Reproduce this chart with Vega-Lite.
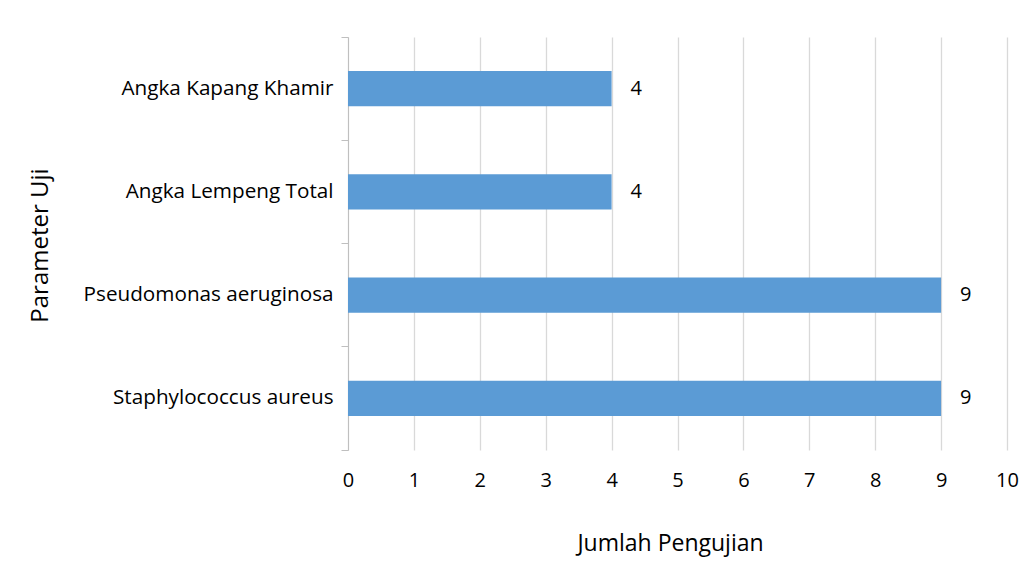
{
  "$schema": "https://vega.github.io/schema/vega-lite/v6.json",
  "width": 659,
  "height": 413,
  "autosize": {"type": "none"},
  "padding": {"left": 348, "top": 37, "right": 20, "bottom": 118},
  "background": "white",
  "config": {
    "view": {"stroke": null},
    "font": "Open Sans",
    "axis": {"labelFont": "Open Sans", "titleFont": "Open Sans", "labelColor": "#000000", "titleColor": "#000000", "titleFontWeight": "normal"}
  },
  "data": {
    "values": [
      {"parameter": "Angka Kapang Khamir", "jumlah": 4},
      {"parameter": "Angka Lempeng Total", "jumlah": 4},
      {"parameter": "Pseudomonas aeruginosa", "jumlah": 9},
      {"parameter": "Staphylococcus aureus", "jumlah": 9}
    ]
  },
  "encoding": {
    "y": {
      "field": "parameter",
      "type": "nominal",
      "sort": null,
      "scale": {"paddingInner": 0, "paddingOuter": 0},
      "axis": {
        "title": "Parameter Uji",
        "titleFontSize": 24,
        "titleAngle": -90,
        "titleX": -308,
        "titleY": 208,
        "titleAlign": "center",
        "titleBaseline": "middle",
        "labelFontSize": 20.7,
        "labelLimit": 0,
        "labelPadding": 8,
        "tickSize": 7,
        "tickColor": "#BFBFBF",
        "domainColor": "#BFBFBF",
        "bandPosition": 1,
        "tickExtra": true,
        "grid": false
      }
    },
    "x": {
      "field": "jumlah",
      "type": "quantitative",
      "scale": {"domain": [0, 10], "nice": false},
      "axis": {
        "title": "Jumlah Pengujian",
        "titleFontSize": 23,
        "titleX": 322,
        "titleY": 93,
        "titleAlign": "center",
        "titleBaseline": "middle",
        "values": [0, 1, 2, 3, 4, 5, 6, 7, 8, 9, 10],
        "labelFontSize": 20,
        "labelFlush": false,
        "labelPadding": 20,
        "ticks": false,
        "domain": false,
        "grid": true,
        "gridColor": "#D9D9D9",
        "gridWidth": 1.3
      }
    }
  },
  "layer": [
    {
      "mark": {"type": "bar", "color": "#5B9BD5", "height": {"band": 0.34}}
    },
    {
      "mark": {"type": "text", "align": "left", "baseline": "middle", "dx": 19, "fontSize": 20, "color": "#000000"},
      "encoding": {"text": {"field": "jumlah", "type": "quantitative"}}
    }
  ]
}
